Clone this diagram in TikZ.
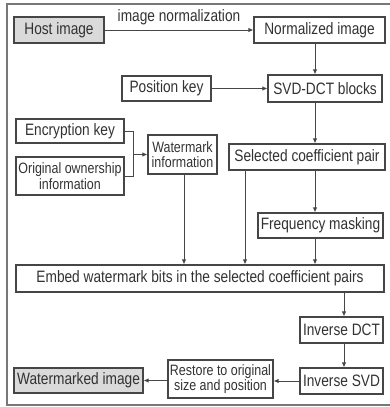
\documentclass[tikz,border=0pt]{standalone}
\usepackage{fontspec}
\setmainfont{Liberation Sans}[FakeStretch=0.83]
\usepackage{xcolor}
\usetikzlibrary{arrows.meta}
\definecolor{linegray}{RGB}{70,70,70}
\definecolor{framegray}{RGB}{120,120,120}
\definecolor{textgray}{RGB}{50,50,50}
\definecolor{imagefill}{RGB}{218,218,218}

\begin{document}
\begin{tikzpicture}[x=1pt, y=-1pt,
    font=\fontsize{16.5}{15.5}\selectfont,
    box/.style={draw=linegray, line width=1.2pt, text=textgray, inner sep=0pt, align=center},
    imagebox/.style={box, fill=imagefill},
    tightbox/.style={box, font=\fontsize{15}{15.5}\selectfont},
    flow/.style={draw=linegray, line width=0.9pt, -{Latex[length=5pt, width=4.5pt]}}]
      \useasboundingbox (0,0) rectangle (390,407);
      % outer frame
      \draw[framegray, line width=1.2pt] (396,4) -- (7,4) -- (7,405) -- (396,405);

      \node[imagebox, minimum width=90pt, minimum height=26pt] (host) at (59,30) {Host image};
      \node[box, minimum width=131pt, minimum height=26pt] (normalized) at (319.5,30) {Normalized image};
      \node[box, minimum width=89pt, minimum height=25pt] (poskey) at (166.5,88.5) {Position key};
      \node[box, minimum width=114pt, minimum height=27pt] (svddct) at (325,88.5) {SVD-DCT blocks};
      \node[box, minimum width=108pt, minimum height=24pt] (enckey) at (70,131) {Encryption key};
      \node[tightbox, minimum width=108pt, minimum height=38pt] (owner) at (70,176) {Original ownership\\information};
      \node[tightbox, minimum width=69pt, minimum height=39pt] (wminfo) at (182.5,154.5) {Watermark\\information};
      \node[box, minimum width=156pt, minimum height=26pt] (selected) at (307,157) {Selected coefficient pair};
      \node[box, minimum width=125pt, minimum height=25pt] (freqmask) at (320.5,225.5) {Frequency masking};
      \node[box, minimum width=368pt, minimum height=27pt] (embed) at (200,278.5) {Embed watermark bits in the selected coefficient pairs};
      \node[box, minimum width=83pt, minimum height=26pt] (invdct) at (341.5,330) {Inverse DCT};
      \node[box, minimum width=83pt, minimum height=26pt] (invsvd) at (341.5,381) {Inverse SVD};
      \node[tightbox, minimum width=105pt, minimum height=38pt] (restore) at (220.5,379) {Restore to original\\size and position};
      \node[imagebox, minimum width=129pt, minimum height=25pt] (marked) at (78.5,380.5) {Watermarked image};

      % vertical lines of the flow
      \coordinate (mainline) at (315,0);
      \coordinate (sideline) at (245,0);
      \coordinate (keyjoin) at (133,0);
      \coordinate (outline) at (344,0);

      \draw[flow] (host) -- node[above=1pt, text=textgray] {image normalization} (normalized);
      \draw[flow] (normalized.south -| mainline) -- (svddct.north -| mainline);
      \draw[flow] (poskey) -- (svddct);
      \draw[flow] (svddct.south -| mainline) -- (selected.north -| mainline);
      \draw[linegray, line width=0.9pt] (enckey.east) -| (keyjoin |- owner.east) -- (owner.east);
      \draw[flow] (keyjoin |- wminfo.west) -- (wminfo.west);
      \draw[flow] (wminfo.south -| 184,0) -- (embed.north -| 184,0);
      \draw[flow] (selected.south -| sideline) -- (embed.north -| sideline);
      \draw[flow] (selected.south -| mainline) -- (freqmask.north -| mainline);
      \draw[flow] (freqmask.south -| mainline) -- (embed.north -| mainline);
      \draw[flow] (embed.south -| outline) -- (invdct.north -| outline);
      \draw[flow] (invdct.south -| outline) -- (invsvd.north -| outline);
      \draw[flow] (invsvd.west) -- (restore.east |- invsvd.west);
      \draw[flow] (restore.west |- marked.east) -- (marked.east);
    \end{tikzpicture}
\end{document}
